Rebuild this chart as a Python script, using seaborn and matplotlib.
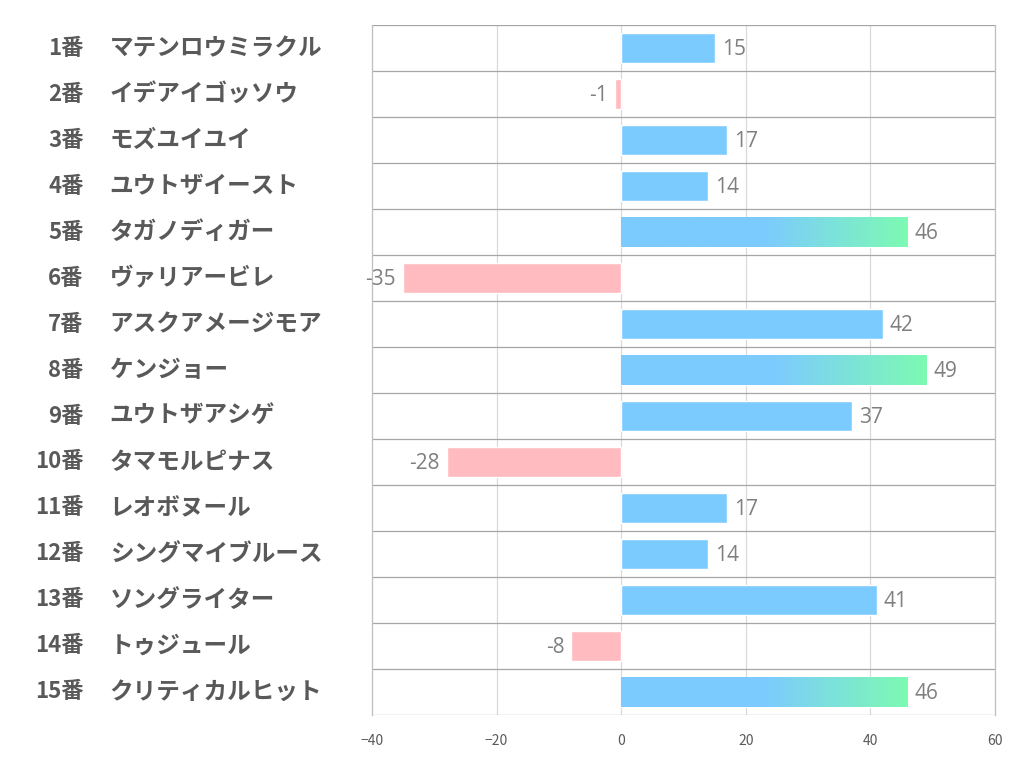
import numpy as np
import pandas as pd
import seaborn as sns
import matplotlib.pyplot as plt
from matplotlib.colors import LinearSegmentedColormap

numbers = ["1番", "2番", "3番", "4番", "5番", "6番", "7番", "8番",
           "9番", "10番", "11番", "12番", "13番", "14番", "15番"]
names = ["マテンロウミラクル", "イデアイゴッソウ", "モズユイユイ", "ユウトザイースト",
         "タガノディガー", "ヴァリアービレ", "アスクアメージモア", "ケンジョー",
         "ユウトザアシゲ", "タマモルピナス", "レオボヌール", "シングマイブルース",
         "ソングライター", "トゥジュール", "クリティカルヒット"]
values = [15, -1, 17, 14, 46, -35, 42, 49, 37, -28, 17, 14, 41, -8, 46]
highlight = ["5番", "8番", "15番"]

df = pd.DataFrame({"num": numbers, "name": names, "value": values})
df["sign"] = np.where(df["value"] >= 0, "pos", "neg")

sns.set_style("white")
plt.rcParams["font.family"] = ["Noto Sans CJK JP", "DejaVu Sans"]

fig = plt.figure(figsize=(10.22, 7.82), dpi=100)
ax = fig.add_axes([0.364, 0.0857, 0.6096, 0.8823])

blue = "#7ccbff"
green = "#7dfab2"
pink = "#ffbbbf"

sns.barplot(data=df, x="value", y="num", hue="sign", orient="h",
            palette={"pos": blue, "neg": pink}, width=0.65, saturation=1,
            dodge=False, legend=False, ax=ax, zorder=3)

ax.set_xlim(-40, 60)
ax.set_ylim(len(df) - 0.5, -0.5)
ax.set_xticks([-40, -20, 0, 20, 40, 60])
ax.tick_params(axis="x", length=0, labelsize=10, labelcolor="#595959", pad=14)
ax.set_yticks([])
ax.set_xlabel("")
ax.set_ylabel("")

# grid
for x in [-20, 0, 20, 40]:
    ax.axvline(x, color="#d9d9d9", lw=0.9, zorder=1)
for y in np.arange(-0.5, len(df), 1):
    ax.axhline(y, color="#a6a6a6", lw=0.9, zorder=2)
for s in ["left", "right"]:
    ax.spines[s].set_color("#bfbfbf")
    ax.spines[s].set_linewidth(0.9)
ax.spines["top"].set_visible(False)
ax.spines["bottom"].set_visible(False)

# gradient bars
cmap = LinearSegmentedColormap.from_list("bg", [(0, blue), (0.5, blue), (1, green)])
grad = np.linspace(0, 1, 256).reshape(1, -1)
for p in ax.patches:
    w = p.get_width()
    yc = p.get_y() + p.get_height() / 2
    idx = int(round(yc))
    if 0 <= idx < len(df) and df["num"][idx] in highlight and w > 0:
        im = ax.imshow(grad, cmap=cmap, aspect="auto",
                       extent=[p.get_x(), p.get_x() + w,
                               p.get_y() + p.get_height(), p.get_y()],
                       zorder=4)
        im.set_clip_path(p)
ax.set_xlim(-40, 60)
ax.set_ylim(len(df) - 0.5, -0.5)

# value labels
for i, v in enumerate(values):
    if v >= 0:
        ax.annotate(str(v), (v, i), xytext=(5, -1), textcoords="offset points",
                    ha="left", va="center", fontsize=15, color="#7f7f7f",
                    family=["Open Sans", "DejaVu Sans"])
    else:
        ax.annotate(str(v), (v, i), xytext=(-5, -1), textcoords="offset points",
                    ha="right", va="center", fontsize=15, color="#7f7f7f",
                    family=["Open Sans", "DejaVu Sans"])

# row labels
tr = ax.get_yaxis_transform()
for i, (n, nm) in enumerate(zip(numbers, names)):
    ax.text(-0.463, i, n, transform=tr, ha="right", va="center",
            fontsize=16, fontweight="bold", color="#595959")
    ax.text(-0.421, i, nm, transform=tr, ha="left", va="center",
            fontsize=17, fontweight="bold", color="#595959")

fig.savefig("out.png", dpi=100, facecolor="white")
